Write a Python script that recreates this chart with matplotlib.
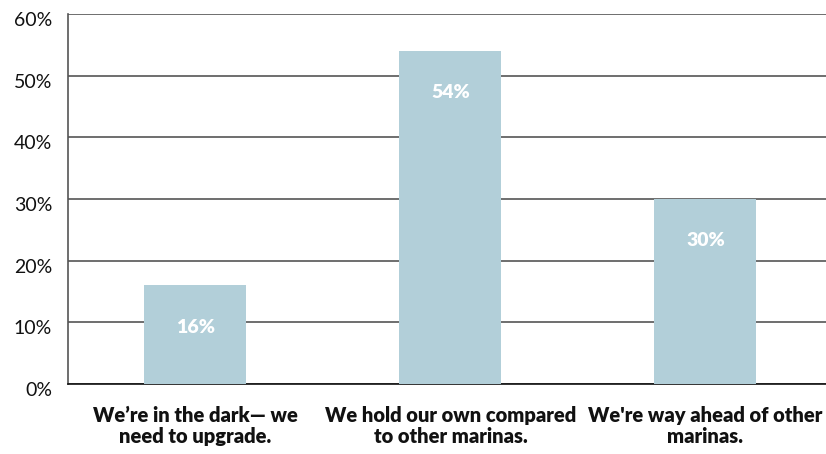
import matplotlib
matplotlib.use("Agg")
import matplotlib.pyplot as plt
import matplotlib.transforms as mtransforms

categories = ["We\u2019re in the dark\u2014 we\nneed to upgrade.",
              "We hold our own compared\nto other marinas.",
              "We're way ahead of other\nmarinas."]
values = [16, 54, 30]
yticks = [0, 10, 20, 30, 40, 50, 60]
ytick_labels = ["0%", "10%", "20%", "30%", "40%", "50%", "60%"]
value_labels = ["16%", "54%", "30%"]

plt.rcParams['font.family'] = ['Lato', 'DejaVu Sans']

fig = plt.figure(figsize=(8.26, 4.54), dpi=100)
ax = fig.add_axes([68/826, 1 - 384/454, (826-68)/826, (384-14)/454])

x = list(range(len(categories)))
ax.bar(x, values, width=0.4, color="#b2cfd9", zorder=3)
ax.set_xlim(-0.5, 2.473)
ax.set_ylim(0, 60)

ax.set_yticks(yticks)
ax.set_yticklabels(ytick_labels, fontsize=14, color="#111111")
ax.tick_params(axis='y', length=0, pad=11.5)
offset = mtransforms.ScaledTranslation(0, -5/100, fig.dpi_scale_trans)
for lbl in ax.get_yticklabels():
    lbl.set_transform(lbl.get_transform() + offset)

ax.set_xticks(x)
ax.set_xticklabels(categories, fontsize=14.5, fontweight='heavy', color="#111111", linespacing=1.15)
ax.tick_params(axis='x', length=0, pad=15.5)

ax.grid(axis='y', color="#555555", linewidth=1.2, zorder=0)
ax.set_axisbelow(True)
for s in ['top', 'right']:
    ax.spines[s].set_visible(False)
ax.spines['left'].set_color("#555555")
ax.spines['left'].set_linewidth(1.2)
ax.spines['bottom'].set_color("#111111")
ax.spines['bottom'].set_linewidth(1.2)

for xi, v, t in zip(x, values, value_labels):
    ax.annotate(t, (xi, v), xytext=(0, -42), textcoords='offset pixels',
                ha='center', va='center', color='white', fontsize=14,
                fontweight='heavy', zorder=4)

fig.savefig("out.png", dpi=100)
